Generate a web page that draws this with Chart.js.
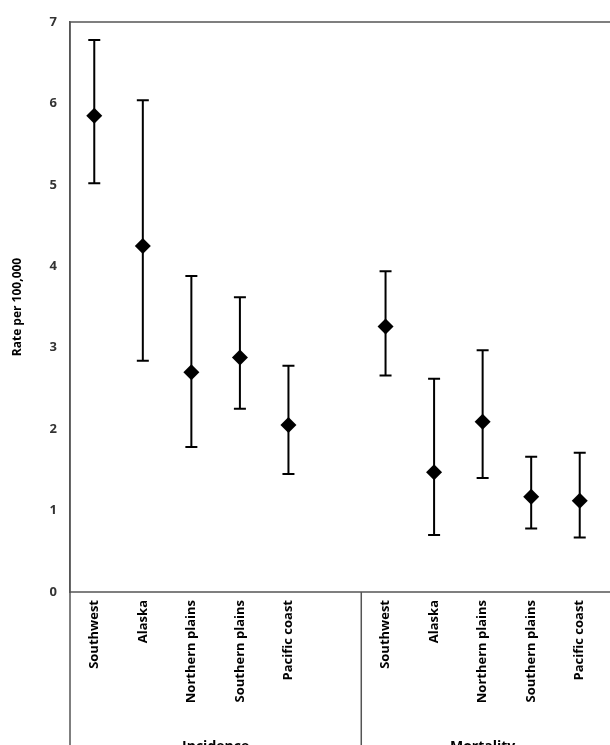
<!DOCTYPE html>
<html><head><meta charset="utf-8">
<script src="https://cdn.jsdelivr.net/npm/chart.js@4"></script>
<style>html,body{margin:0;padding:0;background:#fff;overflow:hidden}
#wrap{width:610px;height:745px;overflow:hidden}#box{width:612px;height:745px}</style>
</head><body><div id="wrap"><div id="box"><canvas id="c"></canvas></div></div>
<script>
const categories = ["Southwest","Alaska","Northern plains","Southern plains","Pacific coast","","Southwest","Alaska","Northern plains","Southern plains","Pacific coast"];
const groups = ["Incidence","Mortality"];
const rate  = [5.85,4.25,2.70,2.88,2.05,null,3.26,1.47,2.09,1.17,1.12];
const lower = [5.02,2.84,1.78,2.25,1.45,null,2.66,0.70,1.40,0.78,0.67];
const upper = [6.78,6.04,3.88,3.62,2.78,null,3.94,2.62,2.97,1.66,1.71];
const yTicks = [0,1,2,3,4,5,6,7];
const FONT = "'Open Sans', 'Liberation Sans', sans-serif";

const errPlugin = {
  id:'err',
  afterDatasetsDraw(chart){
    const {ctx, scales:{x,y}} = chart;
    ctx.save();
    ctx.strokeStyle='#000'; ctx.lineWidth=2;
    rate.forEach((v,i)=>{
      if(v==null) return;
      const px=x.getPixelForValue(i), pl=y.getPixelForValue(lower[i]), pu=y.getPixelForValue(upper[i]);
      ctx.beginPath();
      ctx.moveTo(px,pl);ctx.lineTo(px,pu);
      ctx.moveTo(px-6,pl);ctx.lineTo(px+6,pl);
      ctx.moveTo(px-6,pu);ctx.lineTo(px+6,pu);
      ctx.stroke();
    });
    ctx.restore();
  },
  afterDraw(chart){
    const {ctx, scales:{x}, chartArea:a} = chart;
    ctx.save();
    ctx.strokeStyle='#555'; ctx.lineWidth=1.5;
    ctx.beginPath();
    ctx.moveTo(a.left,a.top);ctx.lineTo(a.right+20,a.top);
    ctx.moveTo(a.left,a.bottom);ctx.lineTo(a.right+20,a.bottom);
    ctx.moveTo(a.left,a.top);ctx.lineTo(a.left,chart.height);
    const dx=(x.getPixelForValue(5)+x.getPixelForValue(6))/2;
    ctx.moveTo(dx,a.bottom);ctx.lineTo(dx,chart.height);
    ctx.stroke();
    ctx.fillStyle='#000'; ctx.font="bold 14px "+FONT; ctx.textAlign='center'; ctx.textBaseline='alphabetic';
    ctx.fillText(groups[0], (a.left+dx)/2, chart.height+6);
    ctx.fillText(groups[1], (dx+a.right)/2, chart.height+6);
    ctx.restore();
  }
};

new Chart(document.getElementById('c'),{
  type:'line',
  data:{labels:categories,datasets:[{data:rate,showLine:false,pointStyle:'rectRot',pointRadius:8,pointHoverRadius:8,
    backgroundColor:'#000',borderColor:'#000',borderWidth:0}]},
  options:{
    responsive:true,maintainAspectRatio:false,animation:false,
    layout:{padding:{top:22,right:0,left:0,bottom:0}},
    plugins:{legend:{display:false},tooltip:{enabled:false}},
    scales:{
      x:{offset:true,grid:{display:false,drawTicks:false,offset:true},border:{display:false},
        ticks:{color:'#000',font:{family:FONT,size:13,weight:'bold'},maxRotation:90,minRotation:90,autoSkip:false,padding:8},
        afterFit(s){s.height=153;}},
      y:{min:0,max:7,grid:{display:false,drawTicks:true,tickLength:5},border:{display:true,color:'#555',width:1.5},
        afterBuildTicks(s){s.ticks=yTicks.map(v=>({value:v}));},
        ticks:{color:'#333',font:{family:FONT,size:13,weight:'bold'},padding:8},
        title:{display:true,text:'Rate per 100,000',color:'#000',font:{family:FONT,size:12,weight:'bold'},padding:{top:10,bottom:0}},
        afterFit(s){s.width=70;}}
    }
  },
  plugins:[errPlugin]
});
</script></body></html>
